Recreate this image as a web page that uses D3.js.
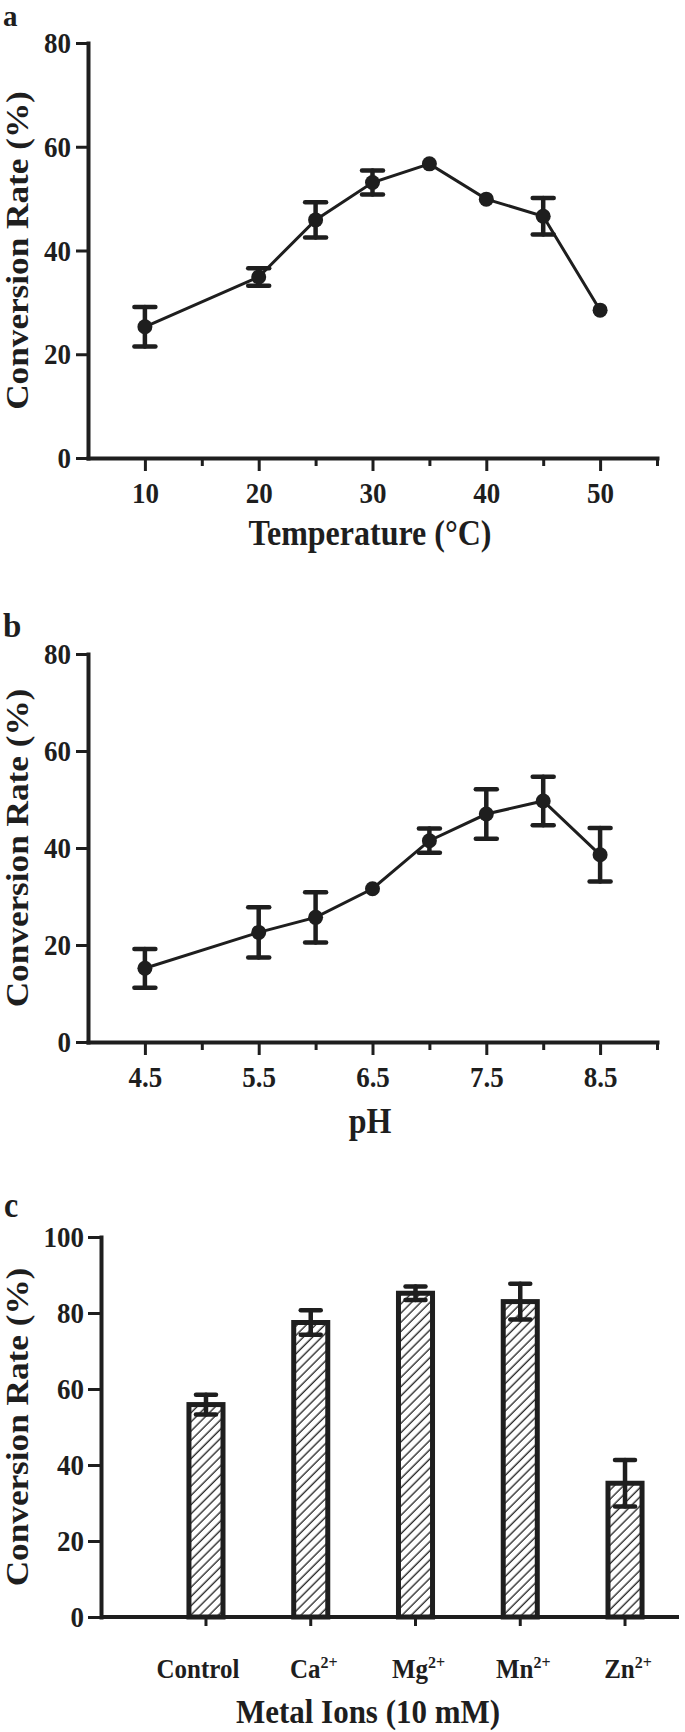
<!DOCTYPE html>
<html>
<head>
<meta charset="utf-8">
<script src="https://cdn.jsdelivr.net/npm/d3@7"></script>
<style>
  body { margin: 0; background: #fff; }
  svg text {
    font-family: 'Liberation Serif', 'Times New Roman', serif;
    font-weight: bold;
    fill: #1e1e1e;
  }
</style>
</head>
<body>
<div id="chart"></div>
<script>
// ---------- DATA: temperature ----------
const tempX = [10, 20, 25, 30, 35, 40, 45, 50];
const tempRate = [25.3, 34.9, 45.9, 53.1, 56.7, 49.9, 46.6, 28.5];
const tempErr = [3.8, 1.7, 3.4, 2.3, 0, 0, 3.5, 0];
const tempMajorTicks = [10, 20, 30, 40, 50];
const tempMinorTicks = [15, 25, 35, 45, 55];

// ---------- DATA: pH ----------
const phX = [4.5, 5.5, 6, 6.5, 7, 7.5, 8, 8.5];
const phRate = [15.2, 22.6, 25.7, 31.6, 41.5, 47.0, 49.7, 38.6];
const phErr = [4.0, 5.2, 5.2, 0, 2.5, 5.1, 5.0, 5.5];
const phMajorTicks = [4.5, 5.5, 6.5, 7.5, 8.5];
const phMinorTicks = [5, 6, 7, 8, 9];

// ---------- DATA: metal ions ----------
const metalIons = ['Control', 'Ca', 'Mg', 'Mn', 'Zn'];
const metalCharge = ['', '2+', '2+', '2+', '2+'];
const metalRate = [55.9, 77.5, 85.2, 83.0, 35.2];
const metalErr = [2.6, 3.2, 1.8, 4.7, 6.1];

const rateTicks80 = [0, 20, 40, 60, 80];
const rateTicks100 = [0, 20, 40, 60, 80, 100];

// ---------- STYLE ----------
const INK = '#1e1e1e';
const SY = 1.1; // the figure's lettering is a bit taller than wide
const W = 685, H = 1732;

const svg = d3
  .select('#chart')
  .append('svg')
  .attr('width', W)
  .attr('height', H);

// hatch for the bars
svg
  .append('defs')
  .append('pattern')
  .attr('id', 'hatch')
  .attr('patternUnits', 'userSpaceOnUse')
  .attr('width', 6.5)
  .attr('height', 6.5)
  .attr('patternTransform', 'rotate(45)')
  .append('line')
  .attr('x1', 3)
  .attr('y1', 0)
  .attr('x2', 3)
  .attr('y2', 6.5)
  .attr('stroke', INK)
  .attr('stroke-width', 1.3);

// put text at (x, y) with the vertical stretch
function stretch(sel, sy) {
  sel.each(function () {
    const t = d3.select(this);
    const x = +t.attr('x') || 0;
    const y = +t.attr('y') || 0;
    t.attr('x', 0)
      .attr('y', 0)
      .attr('transform', `translate(${x},${y}) scale(1,${sy || SY})`);
  });
}

function styleAxis(g, tickFont) {
  g.select('.domain')
    .attr('stroke', INK)
    .attr('stroke-width', 4)
    .attr('stroke-linecap', 'square');
  g.selectAll('.tick line').attr('stroke', INK).attr('stroke-width', 3);
  g.selectAll('.tick text')
    .attr('fill', INK)
    .style('font-size', tickFont + 'px')
    .call(stretch);
  g.attr('font-family', null).attr('font-size', null);
}

function label(txt, x, y, size, anchor, sy) {
  return svg
    .append('text')
    .attr('x', x)
    .attr('y', y)
    .attr('text-anchor', anchor || 'middle')
    .style('font-size', size + 'px')
    .text(txt)
    .call(stretch, sy);
}

function yTitle(x, y) {
  svg
    .append('text')
    .attr('text-anchor', 'middle')
    .attr('dy', '0.35em')
    .attr('transform', `translate(${x},${y}) scale(1,${SY}) rotate(-90)`)
    .style('font-size', '32px')
    .text('Conversion Rate (%)');
}

function errorBars(g, data, x, y, capW) {
  const eb = g
    .selectAll('.err')
    .data(data.filter((d) => d.err > 0))
    .enter()
    .append('g')
    .attr('class', 'err')
    .attr('stroke', INK)
    .attr('stroke-width', 4.5)
    .attr('stroke-linecap', 'round');
  eb.append('line')
    .attr('x1', (d) => x(d.x))
    .attr('x2', (d) => x(d.x))
    .attr('y1', (d) => y(d.v - d.err))
    .attr('y2', (d) => y(d.v + d.err));
  eb.append('line')
    .attr('x1', (d) => x(d.x) - capW / 2)
    .attr('x2', (d) => x(d.x) + capW / 2)
    .attr('y1', (d) => y(d.v + d.err))
    .attr('y2', (d) => y(d.v + d.err));
  eb.append('line')
    .attr('x1', (d) => x(d.x) - capW / 2)
    .attr('x2', (d) => x(d.x) + capW / 2)
    .attr('y1', (d) => y(d.v - d.err))
    .attr('y2', (d) => y(d.v - d.err));
}

//---------------------------------------//
//          LINE PANELS (a, b)           //
//---------------------------------------//
function linePanel(cfg) {
  const x = d3.scaleLinear().domain(cfg.xDomain).range([88, 657]);
  const y = d3.scaleLinear().domain([0, 80]).range([cfg.yBottom, cfg.yTop]);
  const g = svg.append('g');

  // minor ticks first, major axis (with domain) on top
  g.append('g')
    .attr('transform', `translate(0,${cfg.yBottom})`)
    .call(d3.axisBottom(x).tickValues(cfg.minor).tickSize(8).tickFormat(''))
    .call((a) => a.select('.domain').remove())
    .call((a) => styleAxis(a, 27));

  g.append('g')
    .attr('transform', `translate(0,${cfg.yBottom})`)
    .call(
      d3
        .axisBottom(x)
        .tickValues(cfg.major)
        .tickSize(13)
        .tickSizeOuter(0)
        .tickPadding(11)
        .tickFormat(cfg.fmt)
    )
    .call((a) => styleAxis(a, 27));

  g.append('g')
    .attr('transform', `translate(88,0)`)
    .call(
      d3
        .axisLeft(y)
        .tickValues(rateTicks80)
        .tickSize(12)
        .tickSizeOuter(0)
        .tickPadding(5)
    )
    .call((a) => styleAxis(a, 27));

  const data = cfg.xs.map((v, i) => ({ x: v, v: cfg.rate[i], err: cfg.err[i] }));

  const line = d3
    .line()
    .x((d) => x(d.x))
    .y((d) => y(d.v));

  g.append('path')
    .attr('d', line(data))
    .attr('fill', 'none')
    .attr('stroke', INK)
    .attr('stroke-width', 3);

  errorBars(g, data, x, y, 21);

  g.selectAll('.pt')
    .data(data)
    .enter()
    .append('circle')
    .attr('cx', (d) => x(d.x))
    .attr('cy', (d) => y(d.v))
    .attr('r', 7.5)
    .attr('fill', INK);

  label(cfg.panel, 3, cfg.panelY, cfg.panelSize, 'start', 1);
  label(cfg.title, 370, cfg.titleY, 32);
  yTitle(17, (cfg.yTop + cfg.yBottom) / 2);
}

linePanel({
  xs: tempX,
  rate: tempRate,
  err: tempErr,
  major: tempMajorTicks,
  minor: tempMinorTicks,
  xDomain: [5, 55],
  fmt: d3.format('d'),
  yTop: 43,
  yBottom: 458,
  panel: 'a',
  panelY: 26,
  panelSize: 29,
  title: 'Temperature (\u00B0C)',
  titleY: 545,
});

linePanel({
  xs: phX,
  rate: phRate,
  err: phErr,
  major: phMajorTicks,
  minor: phMinorTicks,
  xDomain: [4, 9],
  fmt: d3.format('.1f'),
  yTop: 654,
  yBottom: 1042,
  panel: 'b',
  panelY: 637,
  panelSize: 33,
  title: 'pH',
  titleY: 1133,
});

//---------------------------------------//
//            BAR PANEL (c)              //
//---------------------------------------//
const cTop = 1237,
  cBottom = 1617,
  cLeft = 101,
  cRight = 679;

const xc = d3
  .scaleBand()
  .domain(metalIons)
  .range([153.6, 677.4])
  .paddingInner(0.675)
  .paddingOuter(0.3375);
const yc = d3.scaleLinear().domain([0, 100]).range([cBottom, cTop]);
const gc = svg.append('g');

gc.append('g')
  .attr('transform', `translate(0,${cBottom})`)
  .call(d3.axisBottom(xc).tickSize(9).tickFormat(''))
  .call((a) => a.select('.domain').remove())
  .call((a) => styleAxis(a, 25));

gc.append('line')
  .attr('x1', cLeft)
  .attr('x2', cRight)
  .attr('y1', cBottom)
  .attr('y2', cBottom)
  .attr('stroke', INK)
  .attr('stroke-width', 4);

gc.append('g')
  .attr('transform', `translate(${cLeft},0)`)
  .call(
    d3
      .axisLeft(yc)
      .tickValues(rateTicks100)
      .tickSize(13)
      .tickSizeOuter(0)
      .tickPadding(4)
  )
  .call((a) => styleAxis(a, 27));

const bars = metalIons.map((m, i) => ({
  x: m,
  v: metalRate[i],
  err: metalErr[i],
  sup: metalCharge[i],
}));

gc.selectAll('.bar')
  .data(bars)
  .enter()
  .append('rect')
  .attr('x', (d) => xc(d.x))
  .attr('width', xc.bandwidth())
  .attr('y', (d) => yc(d.v))
  .attr('height', (d) => cBottom - yc(d.v))
  .attr('fill', 'url(#hatch)')
  .attr('stroke', INK)
  .attr('stroke-width', 5);

const xcMid = (m) => xc(m) + xc.bandwidth() / 2;
errorBars(gc, bars, xcMid, yc, 20);

// category labels with superscript charge
gc.selectAll('.cat')
  .data(bars)
  .enter()
  .append('text')
  .attr('x', (d) => xcMid(d.x) + (d.sup ? 3 : -8))
  .attr('y', 1678)
  .attr('text-anchor', 'middle')
  .style('font-size', '25px')
  .each(function (d) {
    const t = d3.select(this);
    t.append('tspan').text(d.x);
    if (d.sup) {
      t.append('tspan')
        .attr('dy', -9)
        .style('font-size', '16px')
        .text(d.sup);
    }
  })
  .call(stretch);

label('c', 4, 1217, 32, 'start');
label('Metal Ions (10 mM)', 368, 1723, 31);
yTitle(17, (cTop + cBottom) / 2);
</script>
</body>
</html>
